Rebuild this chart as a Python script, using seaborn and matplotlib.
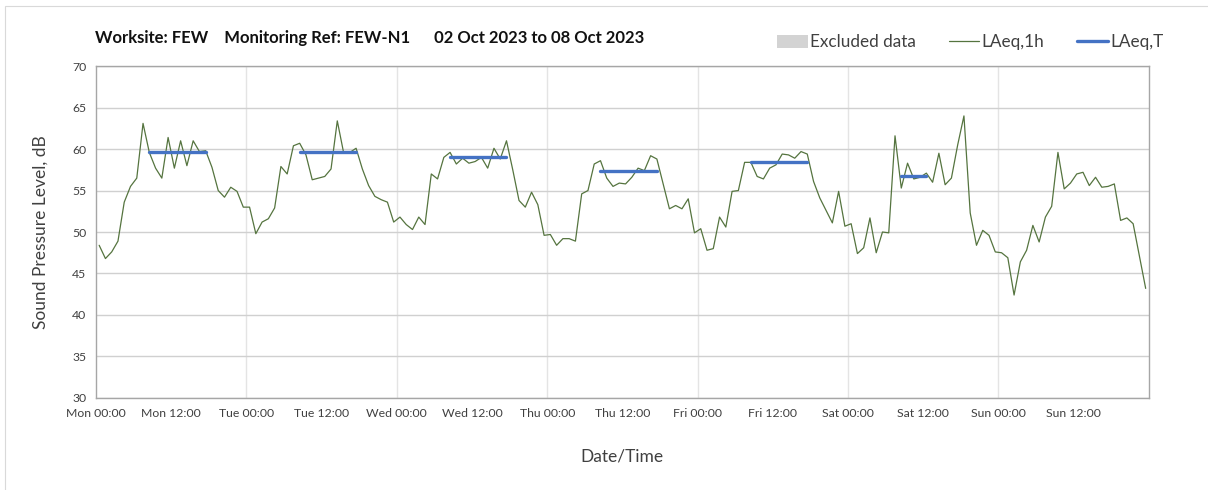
import pandas as pd
import matplotlib
matplotlib.use("Agg")
import matplotlib.pyplot as plt
from matplotlib.patches import Patch, Rectangle
from matplotlib.lines import Line2D
import seaborn as sns

# Hourly LAeq,1h values, Mon 00:00 -> Sun 23:00 (one list per day)
mon = [48.4, 46.8, 47.6, 48.9, 53.6, 55.5, 56.5, 63.1, 59.6, 57.7, 56.5, 61.4,
       57.7, 61.0, 58.0, 61.0, 59.7, 59.8, 57.8, 55.0, 54.2, 55.4, 54.9, 53.0]
tue = [53.0, 49.8, 51.2, 51.6, 52.9, 57.9, 57.0, 60.4, 60.7, 59.3, 56.3, 56.5,
       56.7, 57.6, 63.4, 59.6, 59.6, 60.1, 57.6, 55.6, 54.3, 53.9, 53.6, 51.2]
wed = [51.8, 50.9, 50.3, 51.8, 50.9, 57.0, 56.4, 59.0, 59.6, 58.2, 58.9, 58.3,
       58.5, 59.0, 57.7, 60.1, 58.8, 61.0, 57.5, 53.8, 53.0, 54.8, 53.3, 49.6]
thu = [49.7, 48.4, 49.2, 49.2, 48.9, 54.6, 55.0, 58.2, 58.6, 56.5, 55.5, 55.9,
       55.8, 56.6, 57.7, 57.4, 59.2, 58.8, 55.8, 52.8, 53.2, 52.8, 54.0, 49.9]
fri = [50.4, 47.8, 48.0, 51.8, 50.6, 54.9, 55.0, 58.4, 58.4, 56.7, 56.4, 57.7,
       58.1, 59.4, 59.3, 58.9, 59.7, 59.4, 56.1, 54.1, 52.6, 51.1, 54.9, 50.7]
sat = [51.0, 47.4, 48.1, 51.7, 47.5, 50.0, 49.9, 61.6, 55.3, 58.3, 56.4, 56.6,
       57.1, 56.0, 59.5, 55.7, 56.5, 60.5, 64.0, 52.3, 48.4, 50.2, 49.6, 47.6]
sun = [47.5, 46.9, 42.4, 46.4, 47.8, 50.8, 48.8, 51.8, 53.1, 59.6, 55.2, 55.9,
       57.0, 57.2, 55.6, 56.6, 55.4, 55.5, 55.8, 51.4, 51.7, 51.0, 47.1, 43.2]

days = ["Mon", "Tue", "Wed", "Thu", "Fri", "Sat", "Sun"]

# LAeq,T per day and the hours it covers
laeq_t = [59.6, 59.6, 59.1, 57.3, 58.5, 56.8]
t_first_hour = [8, 8, 8, 8, 8, 8]
t_last_hour = [17, 17, 17, 17, 17, 12]

tick_labels = [f"{d} {t}" for d in days for t in ["00:00", "12:00"]]

hourly = mon + tue + wed + thu + fri + sat + sun
df = pd.DataFrame({"hour": [i + 0.5 for i in range(len(hourly))], "level": hourly})

rows = []
for d, (val, h0, h1) in enumerate(zip(laeq_t, t_first_hour, t_last_hour)):
    for h in range(h0, h1 + 1):
        rows.append({"day": d, "hour": d * 24 + h + 0.5, "level": val})
df_t = pd.DataFrame(rows)

sns.set_style("white")
plt.rcParams["font.family"] = ["Lato", "DejaVu Sans"]

green = "#55743F"
blue = "#4472C4"
txt = "#404040"

fig = plt.figure(figsize=(12.08, 4.9), dpi=100)
ax = fig.add_axes([0.0795, 0.188, 0.8715, 0.677])

sns.lineplot(data=df, x="hour", y="level", color=green, linewidth=0.9, ax=ax)
sns.lineplot(data=df_t, x="hour", y="level", units="day", estimator=None,
             color=blue, linewidth=2.4, ax=ax)

ax.set_xlim(0, 168)
ax.set_ylim(30, 70)
ax.set_yticks(range(30, 71, 5))
ax.set_xticks(range(0, 168, 12))
ax.set_xticklabels(tick_labels)
ax.tick_params(axis="both", direction="out", length=4, width=0.8,
               color="#A6A6A6", labelcolor=txt, labelsize=8.8, pad=3)

ax.grid(axis="y", color="#D0D0D0", linewidth=1)
for x in range(24, 168, 24):
    ax.axvline(x, color="#E4E4E4", linewidth=1, zorder=0)
for s in ax.spines.values():
    s.set_color("#A6A6A6")
    s.set_linewidth(1)

ax.set_xlabel("Date/Time", fontsize=12.5, color=txt)
ax.set_ylabel("Sound Pressure Level, dB", fontsize=12.5, color=txt)
ax.xaxis.set_label_coords(0.5, -0.152)
ax.yaxis.set_label_coords(-0.045, 0.5)

fig.text(0.079, 0.922,
         "Worksite: FEW    Monitoring Ref: FEW-N1      02 Oct 2023 to 08 Oct 2023",
         fontsize=12, fontweight="bold", color="#111111", va="center")

handles = [Patch(facecolor="#D3D3D3", edgecolor="none"),
           Line2D([], [], color=green, linewidth=0.9),
           Line2D([], [], color=blue, linewidth=2.4)]
fig.legend(handles, ["Excluded data", "LAeq,1h", "LAeq,T"],
           loc="center right", bbox_to_anchor=(0.976, 0.914), ncol=3,
           frameon=False, fontsize=12.3, handlelength=1.8, handleheight=0.8,
           columnspacing=1.9, handletextpad=0.15, labelcolor=txt)

# page frame, only its top and left edges fall inside the image
fig.add_artist(Rectangle((0.004, -0.1), 1.2, 1.088, transform=fig.transFigure,
                         fill=False, edgecolor="#D9D9D9", linewidth=0.8))

fig.savefig("out.png", dpi=100)
